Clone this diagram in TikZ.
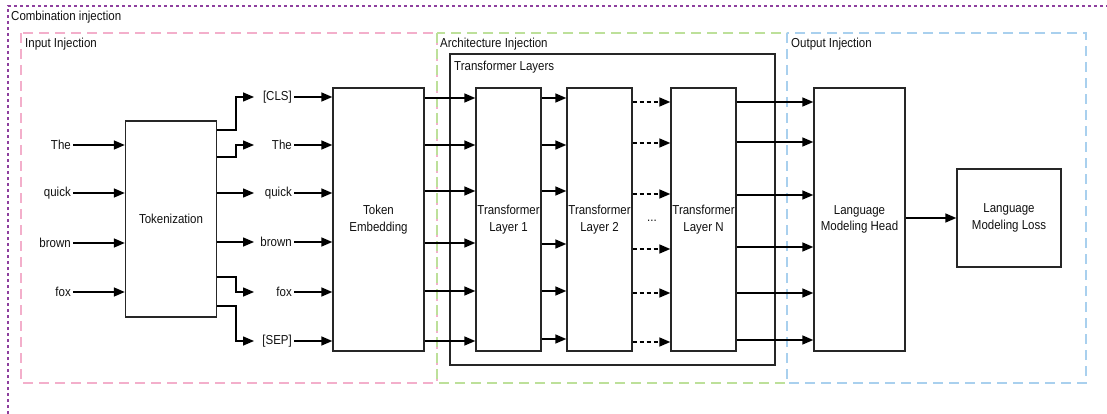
\documentclass[tikz,border=0pt]{standalone}
\usepackage{fontspec}
\setmainfont{Liberation Sans}[FakeStretch=0.885]
\usetikzlibrary{arrows.meta}
\definecolor{purp}{HTML}{8E3F9E}
\definecolor{pinkc}{HTML}{F3AFCB}
\definecolor{greenc}{HTML}{BDE09A}
\definecolor{bluec}{HTML}{A9D0EE}
\definecolor{txt}{HTML}{111111}
\begin{document}
\begin{tikzpicture}[x=1pt,y=-1pt,
  every node/.style={font=\fontsize{13}{16.5}\selectfont, text=txt},
  blk/.style={draw=black!85, line width=1.4pt, fill=white, inner sep=0pt, align=center},
  lbl/.style={inner sep=0pt, anchor=east},
  title/.style={inner sep=0pt, anchor=west},
  arr/.style={line width=1.5pt, -{Triangle[length=11pt,width=9pt]}},
  darr/.style={arr, dash pattern=on 4pt off 3pt},
  region/.style={line width=1.2pt, dash pattern=on 10pt off 6pt}]
\useasboundingbox (0,0) rectangle (1107,414);
% outer combination region
\draw[purp, line width=1.2pt, dash pattern=on 3pt off 3pt] (8,414) -- (8,6) -- (1107,6);
\node[title] (comb) at (11,17) {Combination injection};
% regions
\draw[region, pinkc] (21,33) rectangle (437,383);
\draw[region, greenc] (437,33) rectangle (787,383);
\draw[region, bluec] (787,33) rectangle (1086,383);
\node[title] (inj1) at (25,44) {Input Injection};
\node[title] (inj2) at (440,44) {Architecture Injection};
\node[title] (inj3) at (791,44) {Output Injection};
% transformer layers container
\draw[black!85, line width=1.4pt] (450,54) rectangle (775,365);
\node[title] (tlt) at (454,67) {Transformer Layers};
% boxes
\node[blk, minimum width=91pt, minimum height=196pt] (tok) at (171,219) {Tokenization};
\node[blk, minimum width=91pt, minimum height=263pt] (emb) at (378.5,219.5) {Token\\Embedding};
\node[blk, minimum width=65pt, minimum height=263pt] (L1) at (508.5,219.5) {Transformer\\Layer 1};
\node[blk, minimum width=65pt, minimum height=263pt] (L2) at (599.5,219.5) {Transformer\\Layer 2};
\node[blk, minimum width=65pt, minimum height=263pt] (LN) at (703.5,219.5) {Transformer\\Layer N};
\node[inner sep=0pt] (dots) at (652,221) {...};
\node[blk, minimum width=91pt, minimum height=263pt] (head) at (859.5,219.5) {Language\\Modeling Head};
\node[blk, minimum width=104pt, minimum height=98pt] (loss) at (1009,218) {Language\\Modeling Loss};
% input words
\node[lbl] (w1) at (71,145) {The};
\node[lbl] (w2) at (71,193) {quick};
\node[lbl] (w3) at (71,243) {brown};
\node[lbl] (w4) at (71,292) {fox};
\foreach \w in {w1,w2,w3,w4} \draw[arr] ([xshift=2pt]\w.east) -- (tok.west |- \w.east);
% token labels
\node[lbl] (t0) at (292,97) {[CLS]};
\node[lbl] (t1) at (292,145) {The};
\node[lbl] (t2) at (292,193) {quick};
\node[lbl] (t3) at (292,242) {brown};
\node[lbl] (t4) at (292,292) {fox};
\node[lbl] (t5) at (292,341) {[SEP]};
\foreach \t in {t0,t1,t2,t3,t4,t5} \draw[arr] ([xshift=2pt]\t.east) -- (emb.west |- \t.east);
% tokenization outputs
\coordinate (bx) at (236,0);
\coordinate (tx) at (254,0);
\draw[arr] (tok.east |- 0,130) -| (bx |- t0.east) -- (tx |- t0.east);
\draw[arr] (tok.east |- 0,157) -| (bx |- t1.east) -- (tx |- t1.east);
\draw[arr] (tok.east |- t2.east) -- (tx |- t2.east);
\draw[arr] (tok.east |- t3.east) -- (tx |- t3.east);
\draw[arr] (tok.east |- 0,277) -| (bx |- t4.east) -- (tx |- t4.east);
\draw[arr] (tok.east |- 0,306) -| (bx |- t5.east) -- (tx |- t5.east);
% embedding -> layer 1
\foreach \y in {98,145,191,243,291,341} \draw[arr] (emb.east |- 0,\y) -- (L1.west |- 0,\y);
% layer 1 -> layer 2
\foreach \y in {98,145,191,244,291,339} \draw[arr] (L1.east |- 0,\y) -- (L2.west |- 0,\y);
% layer 2 -> layer N
\foreach \y in {102,143,194,249,293,342} \draw[darr] (L2.east |- 0,\y) -- (LN.west |- 0,\y);
% layer N -> head
\foreach \y in {102,142,195,247,293,340} \draw[arr] (LN.east |- 0,\y) -- (head.west |- 0,\y);
% head -> loss
\draw[arr] (head.east |- loss.west) -- (loss.west);
\end{tikzpicture}
\end{document}
